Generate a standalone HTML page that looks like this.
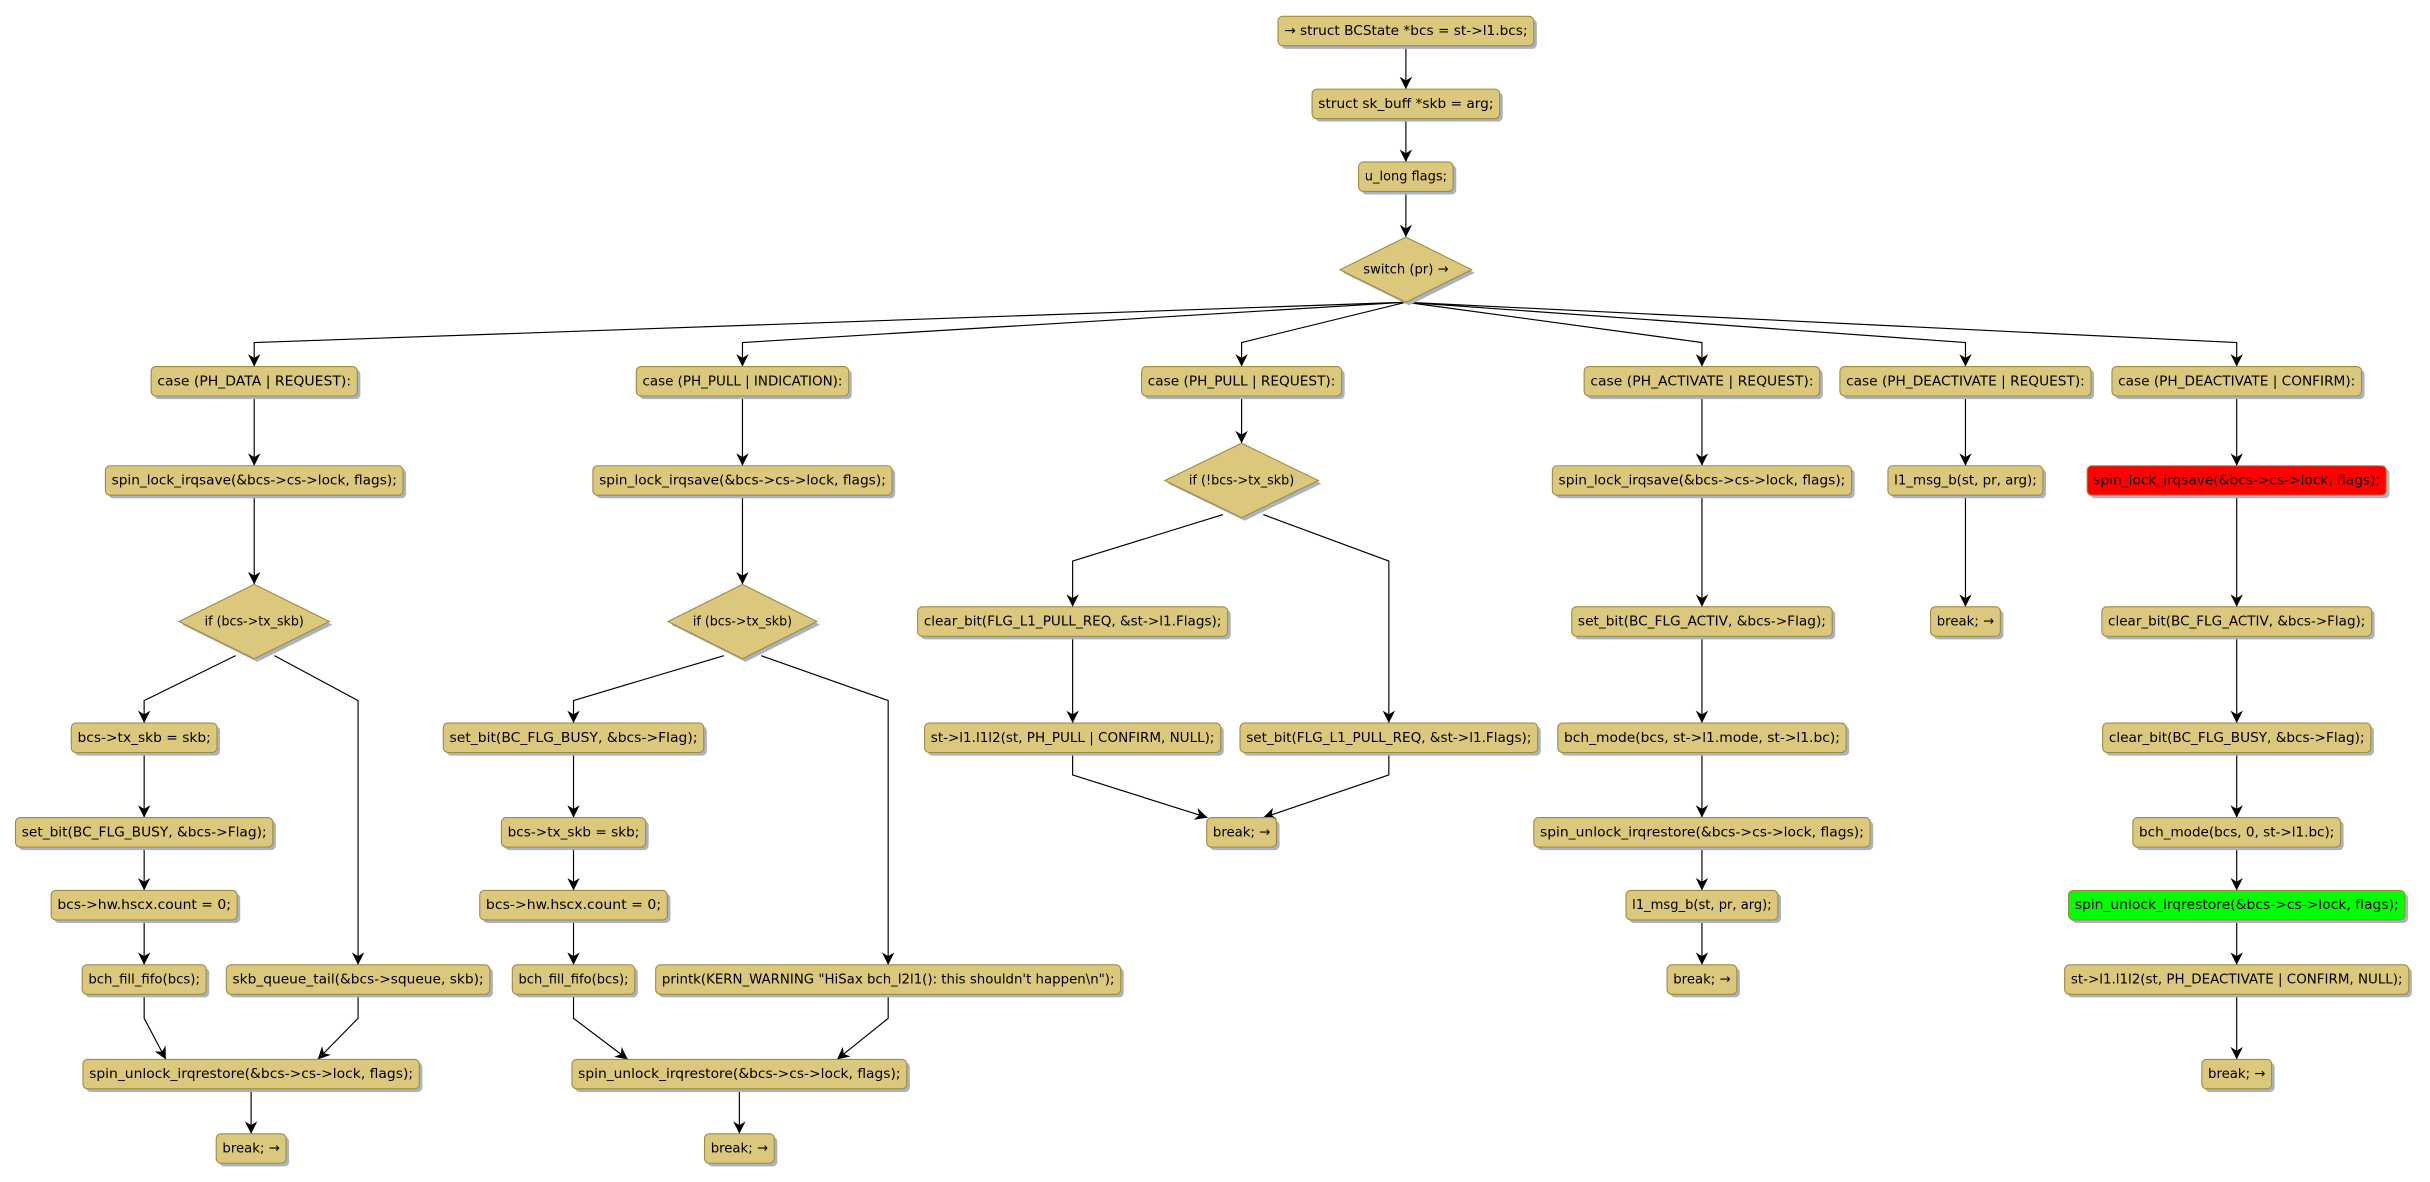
<!DOCTYPE html>
<html><head><meta charset="utf-8"><style>
html,body{margin:0;padding:0;background:#fff;width:2430px;height:1182px;overflow:hidden}
svg{display:block}
text{font-family:"DejaVu Sans","Liberation Sans",sans-serif;font-size:8.8px;fill:#000;text-anchor:middle;dominant-baseline:central}
.b{fill:#dcc87c;stroke:#a08a3c;stroke-width:0.7}
.s{fill:#a9b3c6}
.e{fill:none;stroke:#000;stroke-width:0.75}
</style></head><body>
<svg width="2430" height="1182" viewBox="0 0 1567.7 762.6" preserveAspectRatio="none" xmlns="http://www.w3.org/2000/svg">
<defs><marker id="a" viewBox="0 0 10 10" refX="10" refY="5" markerWidth="8" markerHeight="8" markerUnits="userSpaceOnUse" orient="auto"><path d="M0,0 L10,5 L0,10 L3,5 z" fill="#000"/></marker></defs>
<g class="e" marker-end="url(#a)">
<path d="M907,29.5V57.5"/><path d="M907,76.5V104.5"/><path d="M907,123.5V153"/>
<path d="M907,195L164,221V236.5"/><path d="M907,195L479,221V236.5"/><path d="M907,195L801,221V236.5"/>
<path d="M907,195L1098,221V236.5"/><path d="M907,195L1268,221V236.5"/><path d="M907,195L1443,221V236.5"/>
<path d="M164,255.5V300.5"/><path d="M164,319.5V377"/>
<path d="M152,423L93,452V466.5"/><path d="M177,423L231,452V622.5"/>
<path d="M93,485.5V527.5"/><path d="M93,546.5V574.5"/><path d="M93,593.5V622.5"/>
<path d="M93,641.5V657L107,683.5"/><path d="M231,641.5V657L205,683.5"/>
<path d="M162,702.5V731.5"/>
<path d="M479,255.5V300.5"/><path d="M479,319.5V377"/>
<path d="M467,423L370,452V466.5"/><path d="M491,423L573,452V622.5"/>
<path d="M370,485.5V527.5"/><path d="M370,546.5V574.5"/><path d="M370,593.5V622.5"/>
<path d="M370,641.5V657L405,683.5"/><path d="M573,641.5V657L540,683.5"/>
<path d="M477,702.5V731.5"/>
<path d="M801,255.5V286"/>
<path d="M789,332L692,362V391.5"/><path d="M815,332L896,362V466.5"/>
<path d="M692,410.5V466.5"/>
<path d="M692,485.5V500L779,527.5"/><path d="M896,485.5V500L815,527.5"/>
<path d="M1098,255.5V300.5"/><path d="M1098,319.5V391.5"/><path d="M1098,410.5V466.5"/><path d="M1098,485.5V527.5"/><path d="M1098,546.5V574.5"/><path d="M1098,593.5V622.5"/>
<path d="M1268,255.5V300.5"/><path d="M1268,319.5V391.5"/>
<path d="M1443,255.5V300.5"/><path d="M1443,319.5V391.5"/><path d="M1443,410.5V466.5"/><path d="M1443,485.5V527.5"/><path d="M1443,546.5V574.5"/><path d="M1443,593.5V622.5"/><path d="M1443,641.5V683.5"/>
</g>

<g>
<rect class="s" x="826.5" y="12.5" width="165" height="19" rx="3"/><rect class="b" x="824.5" y="10.5" width="165" height="19" rx="3"/><text x="907" y="20" textLength="157" lengthAdjust="spacingAndGlyphs">→ struct BCState *bcs = st-&gt;l1.bcs;</text>
<rect class="s" x="848.5" y="59.5" width="121" height="19" rx="3"/><rect class="b" x="846.5" y="57.5" width="121" height="19" rx="3"/><text x="907" y="67" textLength="113" lengthAdjust="spacingAndGlyphs">struct sk_buff *skb = arg;</text>
<rect class="s" x="878.5" y="106.5" width="61" height="19" rx="3"/><rect class="b" x="876.5" y="104.5" width="61" height="19" rx="3"/><text x="907" y="114" textLength="53" lengthAdjust="spacingAndGlyphs">u_long flags;</text>
<polygon class="s" points="909,155 951.5,176 909,197 866.5,176"/><polygon class="b" points="907,153 949.5,174 907,195 864.5,174"/><text x="907" y="174" textLength="55" lengthAdjust="spacingAndGlyphs">switch (pr) →</text>

<rect class="s" x="99.5" y="238.5" width="133" height="19" rx="3"/><rect class="b" x="97.5" y="236.5" width="133" height="19" rx="3"/><text x="164" y="246" textLength="125" lengthAdjust="spacingAndGlyphs">case (PH_DATA | REQUEST):</text>
<rect class="s" x="412.5" y="238.5" width="137" height="19" rx="3"/><rect class="b" x="410.5" y="236.5" width="137" height="19" rx="3"/><text x="479" y="246" textLength="129" lengthAdjust="spacingAndGlyphs">case (PH_PULL | INDICATION):</text>
<rect class="s" x="738.5" y="238.5" width="129" height="19" rx="3"/><rect class="b" x="736.5" y="236.5" width="129" height="19" rx="3"/><text x="801" y="246" textLength="121" lengthAdjust="spacingAndGlyphs">case (PH_PULL | REQUEST):</text>
<rect class="s" x="1024" y="238.5" width="152" height="19" rx="3"/><rect class="b" x="1022" y="236.5" width="152" height="19" rx="3"/><text x="1098" y="246" textLength="144" lengthAdjust="spacingAndGlyphs">case (PH_ACTIVATE | REQUEST):</text>
<rect class="s" x="1189" y="238.5" width="162" height="19" rx="3"/><rect class="b" x="1187" y="236.5" width="162" height="19" rx="3"/><text x="1268" y="246" textLength="154" lengthAdjust="spacingAndGlyphs">case (PH_DEACTIVATE | REQUEST):</text>
<rect class="s" x="1364.5" y="238.5" width="161" height="19" rx="3"/><rect class="b" x="1362.5" y="236.5" width="161" height="19" rx="3"/><text x="1443" y="246" textLength="153" lengthAdjust="spacingAndGlyphs">case (PH_DEACTIVATE | CONFIRM):</text>

<rect class="s" x="70" y="302.5" width="192" height="19" rx="3"/><rect class="b" x="68" y="300.5" width="192" height="19" rx="3"/><text x="164" y="310" textLength="184" lengthAdjust="spacingAndGlyphs">spin_lock_irqsave(&amp;bcs-&gt;cs-&gt;lock, flags);</text>
<polygon class="s" points="166,379 214.5,403 166,427 117.5,403"/><polygon class="b" points="164,377 212.5,401 164,425 115.5,401"/><text x="164" y="401" textLength="64" lengthAdjust="spacingAndGlyphs">if (bcs-&gt;tx_skb)</text>
<rect class="s" x="48" y="468.5" width="94" height="19" rx="3"/><rect class="b" x="46" y="466.5" width="94" height="19" rx="3"/><text x="93" y="476" textLength="86" lengthAdjust="spacingAndGlyphs">bcs-&gt;tx_skb = skb;</text>
<rect class="s" x="12" y="529.5" width="166" height="19" rx="3"/><rect class="b" x="10" y="527.5" width="166" height="19" rx="3"/><text x="93" y="537" textLength="158" lengthAdjust="spacingAndGlyphs">set_bit(BC_FLG_BUSY, &amp;bcs-&gt;Flag);</text>
<rect class="s" x="35" y="576.5" width="120" height="19" rx="3"/><rect class="b" x="33" y="574.5" width="120" height="19" rx="3"/><text x="93" y="584" textLength="112" lengthAdjust="spacingAndGlyphs">bcs-&gt;hw.hscx.count = 0;</text>
<rect class="s" x="55" y="624.5" width="80" height="19" rx="3"/><rect class="b" x="53" y="622.5" width="80" height="19" rx="3"/><text x="93" y="632" textLength="72" lengthAdjust="spacingAndGlyphs">bch_fill_fifo(bcs);</text>
<rect class="s" x="148" y="624.5" width="170" height="19" rx="3"/><rect class="b" x="146" y="622.5" width="170" height="19" rx="3"/><text x="231" y="632" textLength="162" lengthAdjust="spacingAndGlyphs">skb_queue_tail(&amp;bcs-&gt;squeue, skb);</text>
<rect class="s" x="55.5" y="685.5" width="217" height="19" rx="3"/><rect class="b" x="53.5" y="683.5" width="217" height="19" rx="3"/><text x="162" y="693" textLength="209" lengthAdjust="spacingAndGlyphs">spin_unlock_irqrestore(&amp;bcs-&gt;cs-&gt;lock, flags);</text>
<rect class="s" x="141.5" y="733.5" width="45" height="19" rx="3"/><rect class="b" x="139.5" y="731.5" width="45" height="19" rx="3"/><text x="162" y="741" textLength="37" lengthAdjust="spacingAndGlyphs">break; →</text>

<rect class="s" x="384.5" y="302.5" width="193" height="19" rx="3"/><rect class="b" x="382.5" y="300.5" width="193" height="19" rx="3"/><text x="479" y="310" textLength="185" lengthAdjust="spacingAndGlyphs">spin_lock_irqsave(&amp;bcs-&gt;cs-&gt;lock, flags);</text>
<polygon class="s" points="481,379 529,403 481,427 433,403"/><polygon class="b" points="479,377 527,401 479,425 431,401"/><text x="479" y="401" textLength="64" lengthAdjust="spacingAndGlyphs">if (bcs-&gt;tx_skb)</text>
<rect class="s" x="288" y="468.5" width="168" height="19" rx="3"/><rect class="b" x="286" y="466.5" width="168" height="19" rx="3"/><text x="370" y="476" textLength="160" lengthAdjust="spacingAndGlyphs">set_bit(BC_FLG_BUSY, &amp;bcs-&gt;Flag);</text>
<rect class="s" x="325.5" y="529.5" width="93" height="19" rx="3"/><rect class="b" x="323.5" y="527.5" width="93" height="19" rx="3"/><text x="370" y="537" textLength="85" lengthAdjust="spacingAndGlyphs">bcs-&gt;tx_skb = skb;</text>
<rect class="s" x="311.5" y="576.5" width="121" height="19" rx="3"/><rect class="b" x="309.5" y="574.5" width="121" height="19" rx="3"/><text x="370" y="584" textLength="113" lengthAdjust="spacingAndGlyphs">bcs-&gt;hw.hscx.count = 0;</text>
<rect class="s" x="332.5" y="624.5" width="79" height="19" rx="3"/><rect class="b" x="330.5" y="622.5" width="79" height="19" rx="3"/><text x="370" y="632" textLength="71" lengthAdjust="spacingAndGlyphs">bch_fill_fifo(bcs);</text>
<rect class="s" x="425" y="624.5" width="300" height="19" rx="3"/><rect class="b" x="423" y="622.5" width="300" height="19" rx="3"/><text x="573" y="632" textLength="292" lengthAdjust="spacingAndGlyphs">printk(KERN_WARNING "HiSax bch_l2l1(): this shouldn't happen\n");</text>
<rect class="s" x="371" y="685.5" width="216" height="19" rx="3"/><rect class="b" x="369" y="683.5" width="216" height="19" rx="3"/><text x="477" y="693" textLength="208" lengthAdjust="spacingAndGlyphs">spin_unlock_irqrestore(&amp;bcs-&gt;cs-&gt;lock, flags);</text>
<rect class="s" x="456.5" y="733.5" width="45" height="19" rx="3"/><rect class="b" x="454.5" y="731.5" width="45" height="19" rx="3"/><text x="477" y="741" textLength="37" lengthAdjust="spacingAndGlyphs">break; →</text>

<polygon class="s" points="803,288 852.5,312 803,336 753.5,312"/><polygon class="b" points="801,286 850.5,310 801,334 751.5,310"/><text x="801" y="310" textLength="68" lengthAdjust="spacingAndGlyphs">if (!bcs-&gt;tx_skb)</text>
<rect class="s" x="594" y="393.5" width="200" height="19" rx="3"/><rect class="b" x="592" y="391.5" width="200" height="19" rx="3"/><text x="692" y="401" textLength="192" lengthAdjust="spacingAndGlyphs">clear_bit(FLG_L1_PULL_REQ, &amp;st-&gt;l1.Flags);</text>
<rect class="s" x="598.5" y="468.5" width="191" height="19" rx="3"/><rect class="b" x="596.5" y="466.5" width="191" height="19" rx="3"/><text x="692" y="476" textLength="183" lengthAdjust="spacingAndGlyphs">st-&gt;l1.l1l2(st, PH_PULL | CONFIRM, NULL);</text>
<rect class="s" x="802" y="468.5" width="192" height="19" rx="3"/><rect class="b" x="800" y="466.5" width="192" height="19" rx="3"/><text x="896" y="476" textLength="184" lengthAdjust="spacingAndGlyphs">set_bit(FLG_L1_PULL_REQ, &amp;st-&gt;l1.Flags);</text>
<rect class="s" x="780.5" y="529.5" width="45" height="19" rx="3"/><rect class="b" x="778.5" y="527.5" width="45" height="19" rx="3"/><text x="801" y="537" textLength="37" lengthAdjust="spacingAndGlyphs">break; →</text>

<rect class="s" x="1003.5" y="302.5" width="193" height="19" rx="3"/><rect class="b" x="1001.5" y="300.5" width="193" height="19" rx="3"/><text x="1098" y="310" textLength="185" lengthAdjust="spacingAndGlyphs">spin_lock_irqsave(&amp;bcs-&gt;cs-&gt;lock, flags);</text>
<rect class="s" x="1016" y="393.5" width="168" height="19" rx="3"/><rect class="b" x="1014" y="391.5" width="168" height="19" rx="3"/><text x="1098" y="401" textLength="160" lengthAdjust="spacingAndGlyphs">set_bit(BC_FLG_ACTIV, &amp;bcs-&gt;Flag);</text>
<rect class="s" x="1007" y="468.5" width="186" height="19" rx="3"/><rect class="b" x="1005" y="466.5" width="186" height="19" rx="3"/><text x="1098" y="476" textLength="178" lengthAdjust="spacingAndGlyphs">bch_mode(bcs, st-&gt;l1.mode, st-&gt;l1.bc);</text>
<rect class="s" x="991.5" y="529.5" width="217" height="19" rx="3"/><rect class="b" x="989.5" y="527.5" width="217" height="19" rx="3"/><text x="1098" y="537" textLength="209" lengthAdjust="spacingAndGlyphs">spin_unlock_irqrestore(&amp;bcs-&gt;cs-&gt;lock, flags);</text>
<rect class="s" x="1051" y="576.5" width="98" height="19" rx="3"/><rect class="b" x="1049" y="574.5" width="98" height="19" rx="3"/><text x="1098" y="584" textLength="90" lengthAdjust="spacingAndGlyphs">l1_msg_b(st, pr, arg);</text>
<rect class="s" x="1077.5" y="624.5" width="45" height="19" rx="3"/><rect class="b" x="1075.5" y="622.5" width="45" height="19" rx="3"/><text x="1098" y="632" textLength="37" lengthAdjust="spacingAndGlyphs">break; →</text>

<rect class="s" x="1220" y="302.5" width="100" height="19" rx="3"/><rect class="b" x="1218" y="300.5" width="100" height="19" rx="3"/><text x="1268" y="310" textLength="92" lengthAdjust="spacingAndGlyphs">l1_msg_b(st, pr, arg);</text>
<rect class="s" x="1247.5" y="393.5" width="45" height="19" rx="3"/><rect class="b" x="1245.5" y="391.5" width="45" height="19" rx="3"/><text x="1268" y="401" textLength="37" lengthAdjust="spacingAndGlyphs">break; →</text>

<rect class="s" x="1348.5" y="302.5" width="193" height="19" rx="3"/><rect class="b" x="1346.5" y="300.5" width="193" height="19" rx="3" style="fill:#ff0000"/><text x="1443" y="310" textLength="185" lengthAdjust="spacingAndGlyphs">spin_lock_irqsave(&amp;bcs-&gt;cs-&gt;lock, flags);</text>
<rect class="s" x="1358" y="393.5" width="174" height="19" rx="3"/><rect class="b" x="1356" y="391.5" width="174" height="19" rx="3"/><text x="1443" y="401" textLength="166" lengthAdjust="spacingAndGlyphs">clear_bit(BC_FLG_ACTIV, &amp;bcs-&gt;Flag);</text>
<rect class="s" x="1358.5" y="468.5" width="173" height="19" rx="3"/><rect class="b" x="1356.5" y="466.5" width="173" height="19" rx="3"/><text x="1443" y="476" textLength="165" lengthAdjust="spacingAndGlyphs">clear_bit(BC_FLG_BUSY, &amp;bcs-&gt;Flag);</text>
<rect class="s" x="1378" y="529.5" width="134" height="19" rx="3"/><rect class="b" x="1376" y="527.5" width="134" height="19" rx="3"/><text x="1443" y="537" textLength="126" lengthAdjust="spacingAndGlyphs">bch_mode(bcs, 0, st-&gt;l1.bc);</text>
<rect class="s" x="1336.5" y="576.5" width="217" height="19" rx="3"/><rect class="b" x="1334.5" y="574.5" width="217" height="19" rx="3" style="fill:#00ff00"/><text x="1443" y="584" textLength="209" lengthAdjust="spacingAndGlyphs">spin_unlock_irqrestore(&amp;bcs-&gt;cs-&gt;lock, flags);</text>
<rect class="s" x="1334" y="624.5" width="222" height="19" rx="3"/><rect class="b" x="1332" y="622.5" width="222" height="19" rx="3"/><text x="1443" y="632" textLength="214" lengthAdjust="spacingAndGlyphs">st-&gt;l1.l1l2(st, PH_DEACTIVATE | CONFIRM, NULL);</text>
<rect class="s" x="1422.5" y="685.5" width="45" height="19" rx="3"/><rect class="b" x="1420.5" y="683.5" width="45" height="19" rx="3"/><text x="1443" y="693" textLength="37" lengthAdjust="spacingAndGlyphs">break; →</text>
</g>
</svg>
</body></html>
